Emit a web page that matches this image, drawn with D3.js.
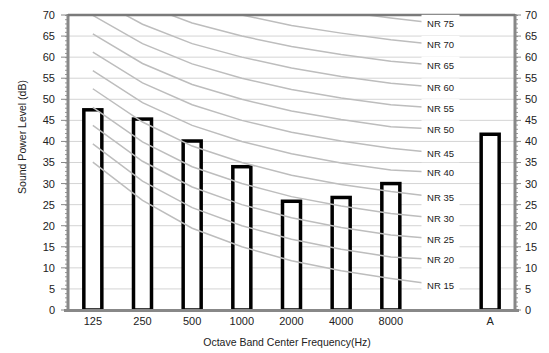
<!DOCTYPE html>
<html><head><meta charset="utf-8">
<script src="https://cdn.jsdelivr.net/npm/d3@7"></script>
<style>
body{margin:0;background:#fff;}
svg{display:block;font-family:"Liberation Sans",Arial,sans-serif;}
</style></head>
<body><svg id="chart" width="549" height="353"></svg>
<script>
const categories = ["125","250","500","1000","2000","4000","8000","","A"];
const barValues = [47.5, 45.3, 40.1, 34.0, 25.8, 26.7, 30.0, null, 41.7];
const yTicks = [0,5,10,15,20,25,30,35,40,45,50,55,60,65,70];
const nrNames = ["NR 15","NR 20","NR 25","NR 30","NR 35","NR 40","NR 45","NR 50","NR 55","NR 60","NR 65","NR 70","NR 75"];
// values at 125..8000 and end point (label position)
const nr15 = [35.1, 26.0, 19.4, 15.0, 11.7, 9.3, 7.5, 5.9];
const nr20 = [39.4, 30.6, 24.3, 20.0, 16.8, 14.4, 12.6, 11.9];
const nr25 = [43.8, 35.3, 29.2, 25.0, 21.9, 19.6, 17.8, 16.8];
const nr30 = [48.1, 39.9, 34.0, 30.0, 26.9, 24.7, 22.9, 21.7];
const nr35 = [52.5, 44.6, 38.9, 35.0, 32.0, 29.8, 28.1, 26.7];
const nr40 = [56.8, 49.2, 43.8, 40.0, 37.1, 34.9, 33.2, 32.6];
const nr45 = [61.2, 53.9, 48.7, 45.0, 42.2, 40.1, 38.4, 37.2];
const nr50 = [65.5, 58.5, 53.5, 50.0, 47.2, 45.2, 43.5, 42.9];
const nr55 = [69.9, 63.2, 58.4, 55.0, 52.3, 50.3, 48.7, 47.9];
const nr60 = [74.2, 67.8, 63.2, 60.0, 57.4, 55.4, 53.8, 52.8];
const nr65 = [78.6, 72.5, 68.1, 65.0, 62.5, 60.6, 59.0, 58.0];
const nr70 = [82.9, 77.1, 73.0, 70.0, 67.5, 65.7, 64.1, 62.9];
const nr75 = [87.3, 81.8, 77.9, 75.0, 72.6, 70.8, 69.3, 67.9];
const nrSeries = [nr15,nr20,nr25,nr30,nr35,nr40,nr45,nr50,nr55,nr60,nr65,nr70,nr75];

(function(){
const svg = d3.select("#chart");
const pL = 68, pR = 515, pT = 15, pB = 310;
const x = d3.scaleBand().domain(categories).range([pL, pR]).padding(0);
const y = d3.scaleLinear().domain([0,70]).range([pB, pT]);
const cx = c => x(c) + x.bandwidth()/2;

svg.append("defs").append("clipPath").attr("id","plotclip")
  .append("rect").attr("x",pL).attr("y",pT).attr("width",pR-pL).attr("height",pB-pT);

// gridlines
svg.append("g").selectAll("line").data(yTicks.filter(t=>t>0 && t<70)).join("line")
  .attr("x1",pL).attr("x2",pR).attr("y1",d=>y(d)).attr("y2",d=>y(d))
  .attr("stroke","#d4d4d4").attr("stroke-width",1);

// bars
const bw = 18;
svg.append("g").selectAll("rect").data(categories.map((c,i)=>({c,v:barValues[i]})).filter(d=>d.v!=null)).join("rect")
  .attr("x",d=>cx(d.c)-bw/2).attr("width",bw)
  .attr("y",d=>y(d.v)).attr("height",d=>y(0)-y(d.v))
  .attr("fill","#fff").attr("stroke","#000").attr("stroke-width",3.5);

// NR lines
const lineCats = categories.slice(0,8);
const line = d3.line().x((d,i)=>cx(lineCats[i])).y(d=>y(d));
svg.append("g").attr("clip-path","url(#plotclip)").selectAll("path").data(nrSeries).join("path")
  .attr("d",line).attr("fill","none").attr("stroke","#bdbdbd").attr("stroke-width",1.5);

// axes
const axisColor = "#888";
const minor = d3.range(0,71,1);
const gl = svg.append("g");
gl.selectAll("line.mn").data(minor).join("line").attr("class","mn")
  .attr("x1",pL-3).attr("x2",pL).attr("y1",d=>y(d)+0.5).attr("y2",d=>y(d)+0.5)
  .attr("stroke","#999").attr("stroke-width",1);
gl.selectAll("line.mj").data(yTicks).join("line").attr("class","mj")
  .attr("x1",pL-7).attr("x2",pL).attr("y1",d=>y(d)).attr("y2",d=>y(d))
  .attr("stroke",axisColor).attr("stroke-width",1);
gl.append("line").attr("x1",pL).attr("x2",pL).attr("y1",pT-1).attr("y2",pB+1)
  .attr("stroke",axisColor).attr("stroke-width",3);
gl.selectAll("text").data(yTicks).join("text")
  .attr("x",55).attr("y",d=>y(d)).attr("dy","0.36em").attr("text-anchor","end")
  .attr("font-size","11px").attr("fill","#222").text(d=>d);

const gr = svg.append("g");
gr.selectAll("line.mn").data(minor).join("line").attr("class","mn")
  .attr("x1",pR).attr("x2",pR+3).attr("y1",d=>y(d)+0.5).attr("y2",d=>y(d)+0.5)
  .attr("stroke","#999").attr("stroke-width",1);
gr.selectAll("line.mj").data(yTicks).join("line").attr("class","mj")
  .attr("x1",pR).attr("x2",pR+6).attr("y1",d=>y(d)).attr("y2",d=>y(d))
  .attr("stroke",axisColor).attr("stroke-width",1);
gr.append("line").attr("x1",pR).attr("x2",pR).attr("y1",pT-1).attr("y2",pB+1)
  .attr("stroke",axisColor).attr("stroke-width",3);
gr.selectAll("text").data(yTicks).join("text")
  .attr("x",525).attr("y",d=>y(d)).attr("dy","0.36em").attr("text-anchor","start")
  .attr("font-size","11px").attr("fill","#222").text(d=>d);

svg.append("line").attr("x1",pL).attr("x2",pR).attr("y1",pT).attr("y2",pT)
  .attr("stroke","#7a7a7a").attr("stroke-width",2.5);
svg.append("line").attr("x1",pL-4).attr("x2",pR+4).attr("y1",pB+0.5).attr("y2",pB+0.5)
  .attr("stroke",axisColor).attr("stroke-width",3);
svg.append("g").selectAll("text").data(categories).join("text")
  .attr("x",d=>cx(d)).attr("y",325).attr("text-anchor","middle")
  .attr("font-size","11px").attr("fill","#222").text(d=>d);

// NR labels
const endCat = categories[7];
const lg = svg.append("g");
nrSeries.forEach((s,i)=>{
  const yy = y(s[7]);
  lg.append("rect").attr("x",cx(endCat)-19).attr("y",yy-9).attr("width",38).attr("height",18).attr("fill","#fff");
  lg.append("text").attr("x",cx(endCat)).attr("y",yy).attr("dy","0.36em").attr("text-anchor","middle")
    .attr("font-size","9.5px").attr("fill","#222").text(nrNames[i]);
});

svg.append("text").attr("transform","translate(26,137) rotate(-90)").attr("text-anchor","middle")
  .attr("font-size","10.5px").attr("fill","#222").text("Sound Power Level (dB)");
svg.append("text").attr("x",287).attr("y",346).attr("text-anchor","middle")
  .attr("font-size","10.5px").attr("fill","#222").text("Octave Band Center Frequency(Hz)");
})();
</script></body></html>
